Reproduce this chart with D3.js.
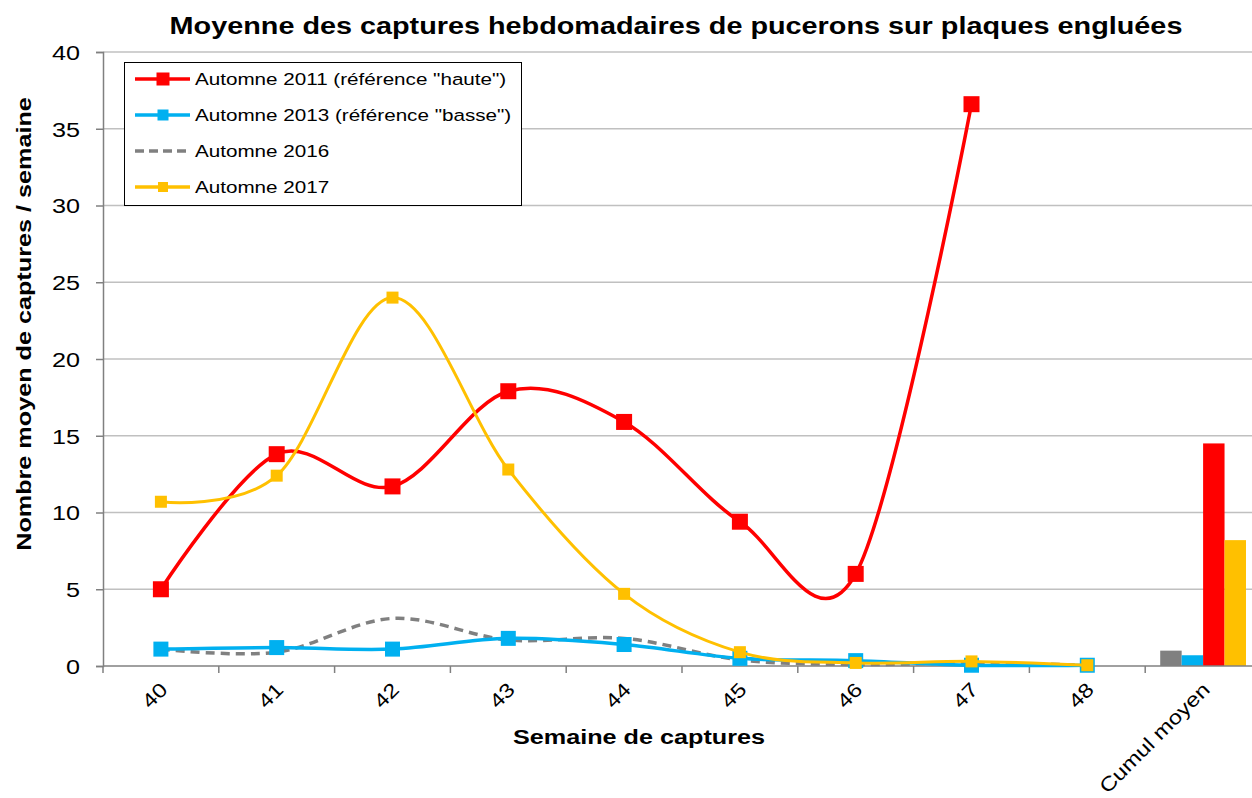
<!DOCTYPE html>
<html>
<head>
<meta charset="utf-8">
<script src="https://cdn.jsdelivr.net/npm/d3@7"></script>
<style>
  body { margin: 0; background: #fff; }
  svg { font-family: "Liberation Sans", Arial, sans-serif; display: block; }
</style>
</head>
<body>
<svg id="chart"></svg>
<script>
// Donnees
const weeks = ["40", "41", "42", "43", "44", "45", "46", "47", "48"];
const cumulLabel = "Cumul moyen";
const categories = weeks.concat([cumulLabel]);

const seriesNames = ['Automne 2011 (référence "haute")', 'Automne 2013 (référence "basse")', "Automne 2016", "Automne 2017"];
const values2011 = [5.0, 13.8, 11.7, 17.9, 15.9, 9.4, 6.0, 36.6, null];
const values2013 = [1.1, 1.2, 1.1, 1.8, 1.4, 0.5, 0.35, 0.05, 0.05];
const values2016 = [1.1, 0.9, 3.1, 1.7, 1.8, 0.4, 0.1, 0.2, 0.05];
const values2017 = [10.7, 12.4, 24.0, 12.8, 4.7, 0.9, 0.2, 0.3, 0.05];

// Cumul moyen (barres) : ordre d'affichage gris, bleu, rouge, jaune
const cumulOrder = ["Automne 2016", 'Automne 2013 (référence "basse")', 'Automne 2011 (référence "haute")', "Automne 2017"];
const cumulValues = [1.0, 0.7, 14.5, 8.2];

const yTicks = [0, 5, 10, 15, 20, 25, 30, 35, 40];

const width = 1252;
const height = 798;
const margin = {top: 52, right: -9, bottom: 132, left: 103};
// le texte de l'original est un peu etire en largeur
const stretch = 1.2;

const colors = {
  'Automne 2011 (référence "haute")': "#ff0000",
  'Automne 2013 (référence "basse")': "#00b0f0",
  "Automne 2016": "#808080",
  "Automne 2017": "#ffc000"
};

let svg = d3.select("#chart").attr("width", width).attr("height", height);

let x = d3.scaleBand().domain(categories).range([margin.left, width - margin.right]).padding(0);
let y = d3.scaleLinear().domain([0, 40]).range([height - margin.bottom, margin.top]);
let xc = d => x(d) + x.bandwidth() / 2;

// texte avec etirement horizontal
function addText(parent, tx, ty, str, size, opts) {
  opts = opts || {};
  let rot = opts.rotate ? ` rotate(${opts.rotate})` : "";
  return parent.append("text")
    .attr("transform", `translate(${tx},${ty})${rot} scale(${stretch},1)`)
    .attr("text-anchor", opts.anchor || "start")
    .attr("dy", opts.dy || null)
    .attr("fill", "#000")
    .style("font-family", "'Liberation Sans', Arial, sans-serif")
    .style("font-size", size + "px")
    .style("font-weight", opts.bold ? "bold" : null)
    .text(str);
}

// titre
addText(svg, 676, 34, "Moyenne des captures hebdomadaires de pucerons sur plaques engluées", 24, {anchor: "middle", bold: true});

// grille
svg.append("g").selectAll("line")
  .data(yTicks.filter(t => t > 0))
  .join("line")
  .attr("x1", margin.left).attr("x2", width)
  .attr("y1", d => y(d)).attr("y2", d => y(d))
  .attr("stroke", "#c0c0c0").attr("stroke-width", 1.5);

// axe y
let yAxis = svg.append("g")
  .attr("transform", `translate(${margin.left},0)`)
  .call(d3.axisLeft(y).tickValues(yTicks).tickSize(7));
yAxis.select(".domain").attr("stroke", "#808080").attr("stroke-width", 1.5);
yAxis.selectAll(".tick line").attr("stroke", "#808080").attr("stroke-width", 1.5);
yAxis.selectAll(".tick text").remove();
yAxis.selectAll(".tick").each(function(d) {
  addText(d3.select(this), -23, 0, d, 21, {anchor: "end", dy: "0.35em"});
});

// barres du cumul
let inner = d3.scaleBand().domain(cumulOrder).range([0, x.bandwidth()]).paddingOuter(0.7).paddingInner(0);
svg.append("g").selectAll("rect")
  .data(cumulOrder.map((s, i) => ({s: s, v: cumulValues[i]})))
  .join("rect")
  .attr("x", d => x(cumulLabel) + inner(d.s))
  .attr("width", inner.bandwidth())
  .attr("y", d => y(d.v))
  .attr("height", d => y(0) - y(d.v))
  .attr("fill", d => colors[d.s]);

// axe x
let xAxisG = svg.append("g");
xAxisG.append("line")
  .attr("x1", margin.left).attr("x2", width)
  .attr("y1", y(0)).attr("y2", y(0))
  .attr("stroke", "#808080").attr("stroke-width", 1.5);
xAxisG.selectAll(".tk")
  .data(categories)
  .join("line")
  .attr("class", "tk")
  .attr("x1", d => x(d)).attr("x2", d => x(d))
  .attr("y1", y(0)).attr("y2", y(0) + 7)
  .attr("stroke", "#808080").attr("stroke-width", 1.5);
categories.forEach(c => {
  addText(xAxisG, xc(c) + 3, y(0) + 20, c, 19.8, {anchor: "end", dy: "0.35em", rotate: -45});
});

// titres des axes
addText(svg, 639, 744, "Semaine de captures", 21, {anchor: "middle", bold: true});
addText(svg, 31, 324, "Nombre moyen de captures / semaine", 21, {anchor: "middle", bold: true, rotate: -90});

// courbes
let line = d3.line()
  .defined(d => d.v != null)
  .x(d => xc(d.w))
  .y(d => y(d.v))
  .curve(d3.curveCardinal.tension(0));

const lineSeries = [
  {name: "Automne 2016", values: values2016, dash: "9,6", marker: 0, width: 3.5},
  {name: 'Automne 2013 (référence "basse")', values: values2013, dash: null, marker: 15, width: 3.5},
  {name: 'Automne 2011 (référence "haute")', values: values2011, dash: null, marker: 16, width: 3.5},
  {name: "Automne 2017", values: values2017, dash: null, marker: 12, width: 3}
];

lineSeries.forEach(s => {
  let pts = weeks.map((w, i) => ({w: w, v: s.values[i]})).filter(d => d.v != null);
  svg.append("path")
    .datum(pts)
    .attr("d", line)
    .attr("fill", "none")
    .attr("stroke", colors[s.name])
    .attr("stroke-width", s.width)
    .attr("stroke-dasharray", s.dash);
  if (s.marker > 0) {
    svg.append("g").selectAll("rect")
      .data(pts)
      .join("rect")
      .attr("x", d => xc(d.w) - s.marker / 2)
      .attr("y", d => y(d.v) - s.marker / 2)
      .attr("width", s.marker).attr("height", s.marker)
      .attr("fill", colors[s.name]);
  }
});

// legende
const legendItems = [
  {name: 'Automne 2011 (référence "haute")', dash: null, marker: 13},
  {name: 'Automne 2013 (référence "basse")', dash: null, marker: 11},
  {name: "Automne 2016", dash: "9,5", marker: 0},
  {name: "Automne 2017", dash: null, marker: 10}
];
let lg = svg.append("g");
lg.append("rect")
  .attr("x", 124.5).attr("y", 62.5).attr("width", 397).attr("height", 143)
  .attr("fill", "#fff").attr("stroke", "#000").attr("stroke-width", 1);
legendItems.forEach((it, i) => {
  let cy = 79 + i * 36;
  lg.append("line")
    .attr("x1", 135).attr("x2", 190).attr("y1", cy).attr("y2", cy)
    .attr("stroke", colors[it.name]).attr("stroke-width", 3.5)
    .attr("stroke-dasharray", it.dash);
  if (it.marker > 0) {
    lg.append("rect")
      .attr("x", 163 - it.marker / 2).attr("y", cy - it.marker / 2)
      .attr("width", it.marker).attr("height", it.marker)
      .attr("fill", colors[it.name]);
  }
  addText(lg, 195, cy, it.name, 17.2, {dy: "0.35em"});
});
</script>
</body>
</html>
